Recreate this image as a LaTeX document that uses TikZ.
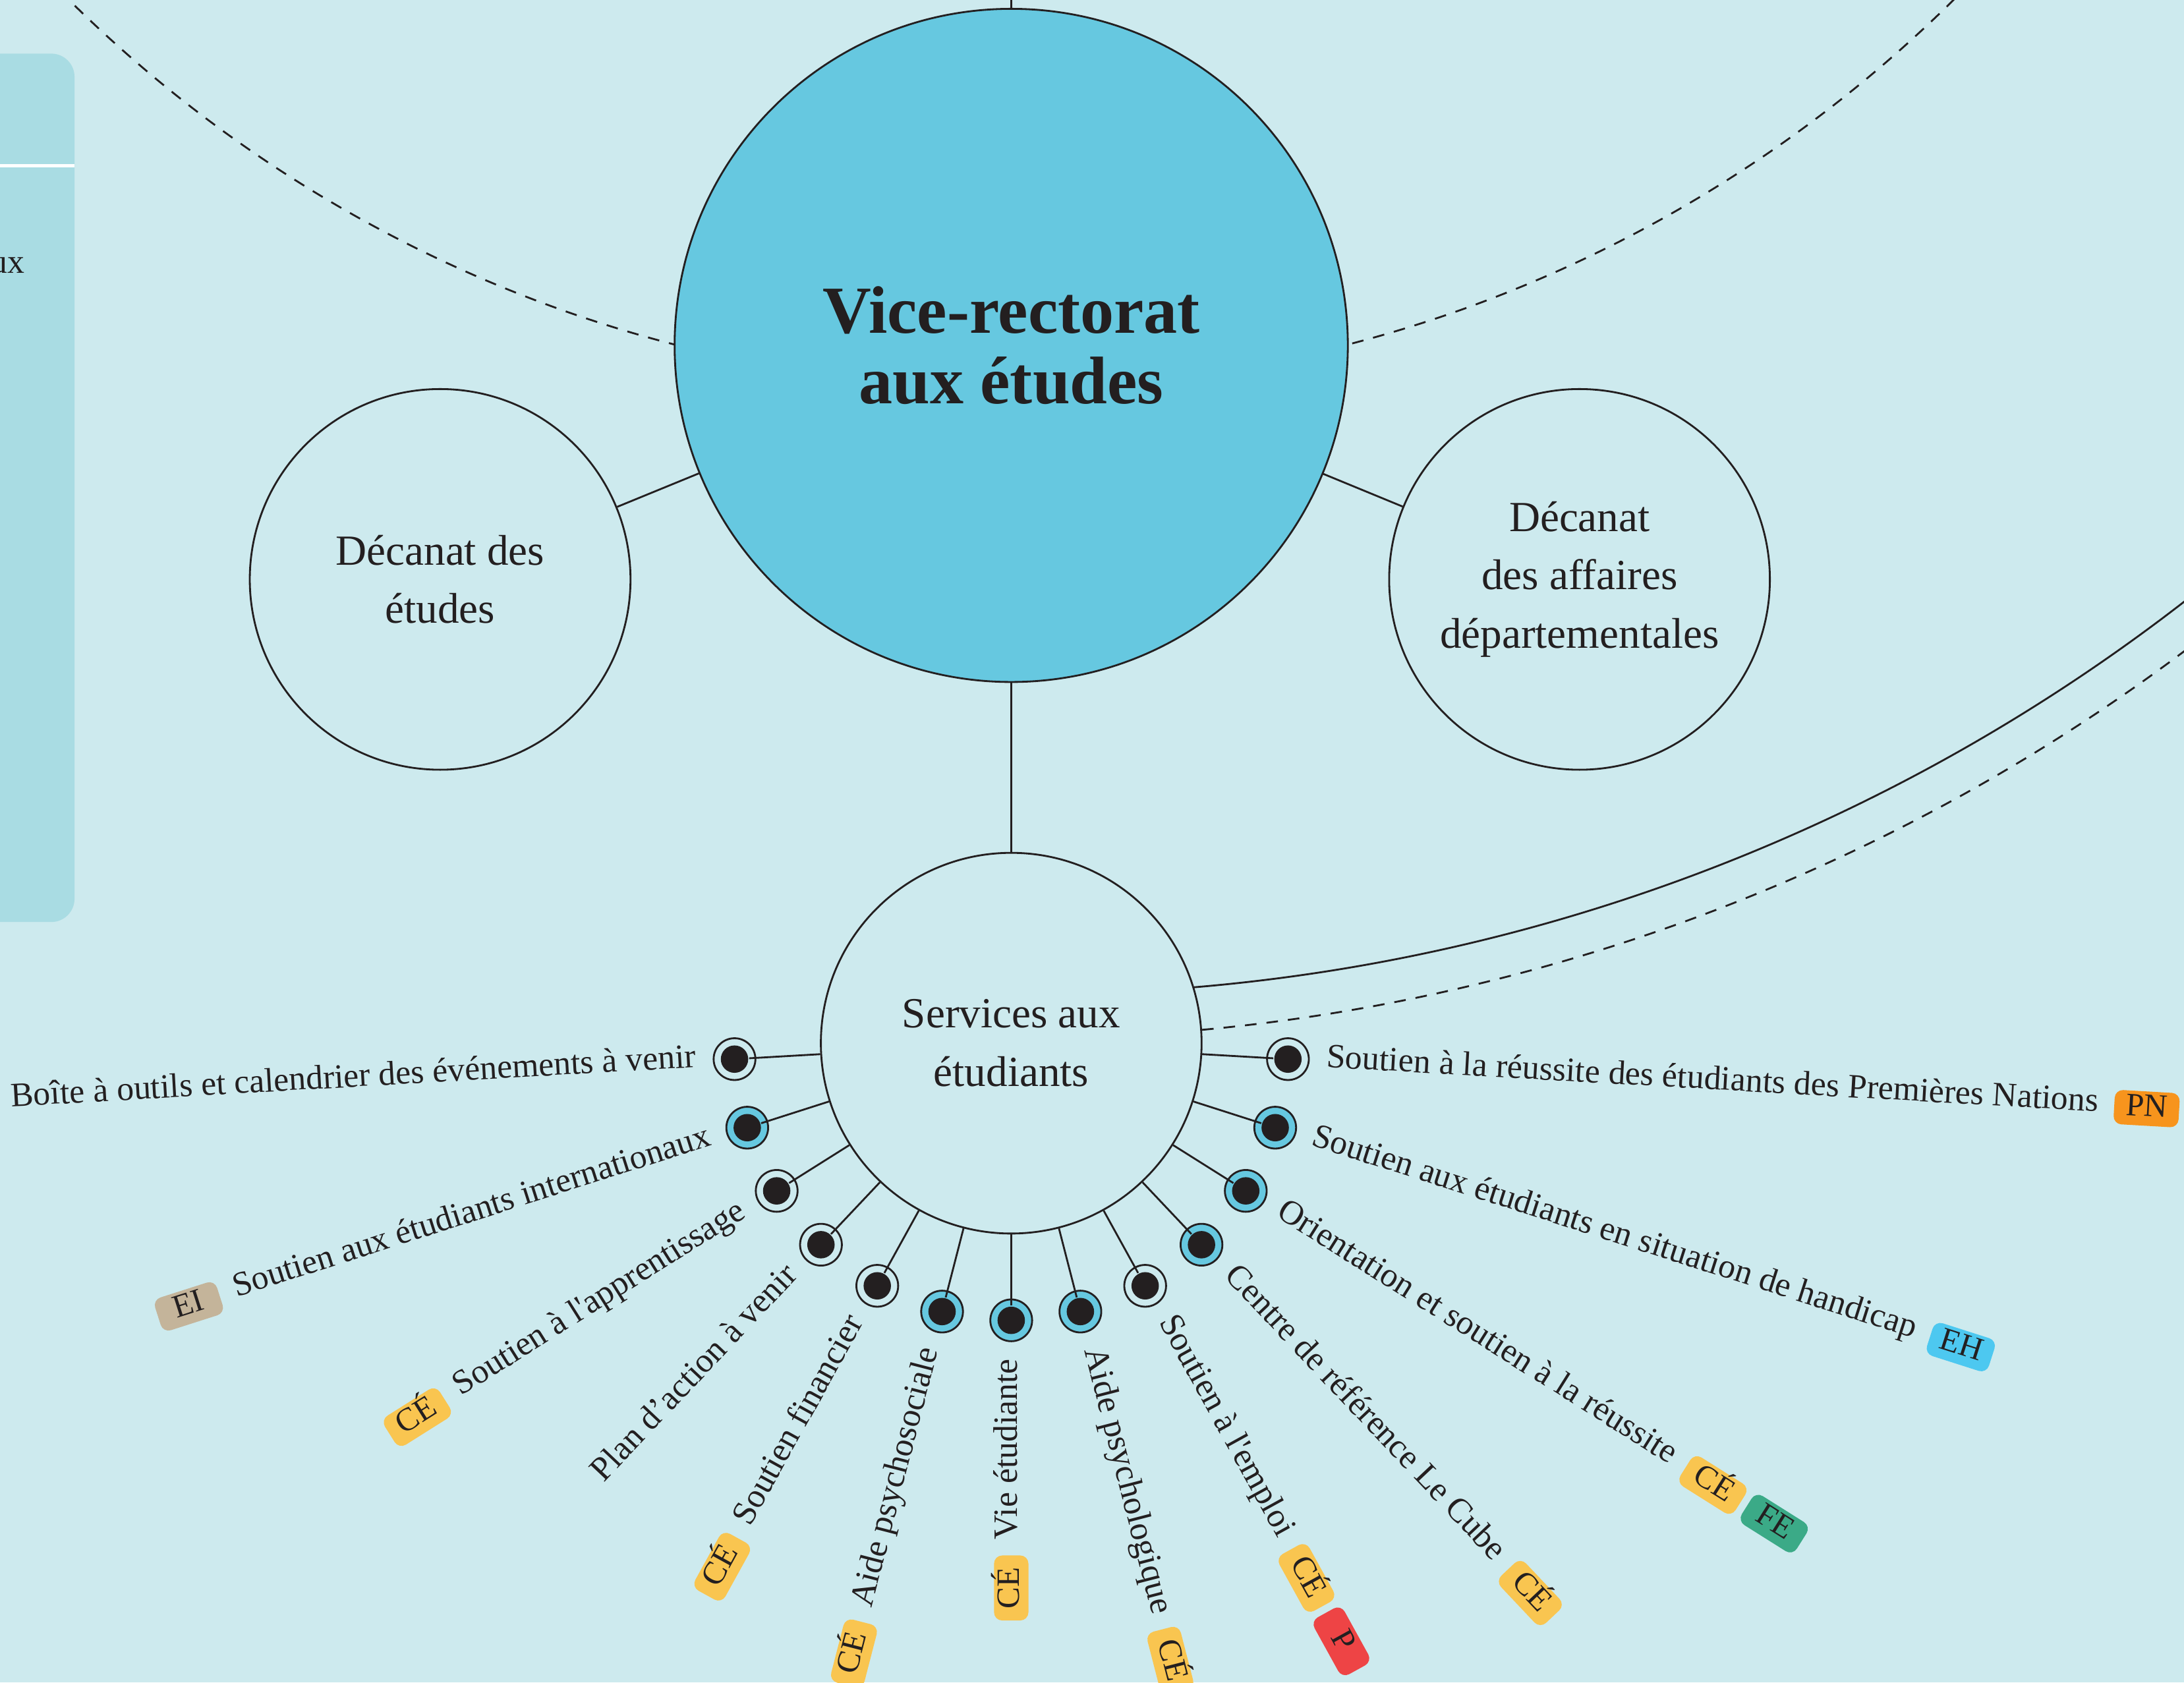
\documentclass[tikz,border=0pt]{standalone}
\usepackage{fontspec}
\setmainfont{Liberation Serif}
\usepackage{tikz}
\usetikzlibrary{positioning}
\definecolor{bgc}{HTML}{CDEAEE}
\definecolor{panelc}{HTML}{A9DCE3}
\definecolor{cyanc}{HTML}{66C8E0}
\definecolor{inkc}{HTML}{231F20}
\definecolor{tagce}{HTML}{F9C550}
\definecolor{tagei}{HTML}{C4B49A}
\definecolor{tagp}{HTML}{EE4445}
\definecolor{tagfe}{HTML}{3BAA87}
\definecolor{tageh}{HTML}{4DC8F0}
\definecolor{tagpn}{HTML}{F7941D}

\begin{document}
\begin{tikzpicture}[x=0.6pt,y=-0.6pt,line width=0.8pt,color=inkc,
  bubble/.style={circle,draw,inner sep=0pt,minimum size=164pt,align=center,font=\fontsize{18.5}{25.2}\selectfont},
  hub/.style={circle,draw,fill=cyanc,inner sep=0pt,minimum size=290pt,align=center,font=\fontsize{29}{30.6}\selectfont\bfseries},
  ring/.style={circle,draw,fill=bgc,inner sep=0pt,minimum size=18pt},
  ringc/.style={ring,fill=cyanc},
  pip/.style={circle,fill=inkc,inner sep=0pt,minimum size=11.8pt},
  item/.style={inner sep=0pt,text height=0.7em,text depth=0.2em,font=\fontsize{14.7}{17}\selectfont},
  badge/.style={rounded corners=3.5pt,inner sep=0pt,minimum width=28pt,minimum height=14.8pt,text height=0.66em,text depth=0pt,font=\fontsize{14}{16}\selectfont},
  orbit/.style={dash pattern=on 5pt off 4.3pt}]
\useasboundingbox (0,0) rectangle (1568,1208);
\clip (0,0) rectangle (1568,1208);
\fill[bgc] (0,0) rectangle (1568,1208);
%
\fill[panelc,rounded corners=10pt] (-40,38.5) rectangle (53.5,662);
\draw[white,line width=1.6pt] (-40,119) -- (53.5,119);
\node[item,anchor=east] (ux) at (18.5,192) {ux};
%
\coordinate (orb) at (726,-684);
\draw[orbit] (orb) circle[radius=962];
%
\node[hub] (vr) at (726,248) {Vice-rectorat\\aux études};
\node[bubble] (de) at (316,416) {Décanat des\\études};
\node[bubble] (dad) at (1134,416) {Décanat\\des affaires\\départementales};
\node[bubble] (sae) at (726,749) {Services aux\\étudiants};
\coordinate (top) at (726,-20);
%
\draw (vr) -- (top);
\draw (vr) -- (de);
\draw (vr) -- (dad);
\draw (vr) -- (sae);
\draw (sae.17.1) arc[start angle=85.2,end angle=45,radius=1344];
\draw[orbit] (sae.4) arc[start angle=84.7,end angle=48,radius=1389];
%
\node[ring] (r1) at ([shift={(176.7:199)}]sae) {};
\node[pip] (p1) at (r1) {};
\draw (sae) -- (p1);
\node[item,anchor=east,rotate=3.3] (t1) at ([shift={(176.7:226)}]sae) {Boîte à outils et calendrier des événements à venir};
%
\node[ringc] (r2) at ([shift={(162.25:199)}]sae) {};
\node[pip] (p2) at (r2) {};
\draw (sae) -- (p2);
\node[item,anchor=east,rotate=17.75] (t2) at ([shift={(162.25:226)}]sae) {Soutien aux étudiants internationaux};
\node[badge,fill=tagei,anchor=east,rotate=17.75] (g2) at ([shift={(162.25:10)}]t2.west) {EI};
%
\node[ring] (r3) at ([shift={(147.8:199)}]sae) {};
\node[pip] (p3) at (r3) {};
\draw (sae) -- (p3);
\node[item,anchor=east,rotate=32.2] (t3) at ([shift={(147.8:226)}]sae) {Soutien à l\textquotesingle apprentissage};
\node[badge,fill=tagce,anchor=east,rotate=32.2] (g3) at ([shift={(147.8:10)}]t3.west) {CÉ};
%
\node[ring] (r4) at ([shift={(133.35:199)}]sae) {};
\node[pip] (p4) at (r4) {};
\draw (sae) -- (p4);
\node[item,anchor=east,rotate=46.65] (t4) at ([shift={(133.35:226)}]sae) {Plan d’action à venir};
%
\node[ring] (r5) at ([shift={(118.9:199)}]sae) {};
\node[pip] (p5) at (r5) {};
\draw (sae) -- (p5);
\node[item,anchor=east,rotate=61.1] (t5) at ([shift={(118.9:226)}]sae) {Soutien financier};
\node[badge,fill=tagce,anchor=east,rotate=61.1] (g5) at ([shift={(118.9:10)}]t5.west) {CÉ};
%
\node[ringc] (r6) at ([shift={(104.45:199)}]sae) {};
\node[pip] (p6) at (r6) {};
\draw (sae) -- (p6);
\node[item,anchor=east,rotate=75.55] (t6) at ([shift={(104.45:226)}]sae) {Aide psychosociale};
\node[badge,fill=tagce,anchor=east,rotate=75.55] (g6) at ([shift={(104.45:10)}]t6.west) {CÉ};
%
\node[ringc] (r7) at ([shift={(90:199)}]sae) {};
\node[pip] (p7) at (r7) {};
\draw (sae) -- (p7);
\node[item,anchor=east,rotate=90] (t7) at ([shift={(90:226)}]sae) {Vie étudiante};
\node[badge,fill=tagce,anchor=east,rotate=90] (g7) at ([shift={(90:10)}]t7.west) {CÉ};
%
\node[ringc] (r8) at ([shift={(75.55:199)}]sae) {};
\node[pip] (p8) at (r8) {};
\draw (sae) -- (p8);
\node[item,anchor=west,rotate=-75.55] (t8) at ([shift={(75.55:226)}]sae) {Aide psychologique};
\node[badge,fill=tagce,anchor=west,rotate=-75.55] (g8) at ([shift={(75.55:10)}]t8.east) {CÉ};
%
\node[ring] (r9) at ([shift={(61.1:199)}]sae) {};
\node[pip] (p9) at (r9) {};
\draw (sae) -- (p9);
\node[item,anchor=west,rotate=-61.1] (t9) at ([shift={(61.1:226)}]sae) {Soutien à l\textquotesingle emploi};
\node[badge,fill=tagce,anchor=west,rotate=-61.1] (g9) at ([shift={(61.1:10)}]t9.east) {CÉ};
\node[badge,fill=tagp,anchor=west,rotate=-61.1] (g9b) at ([shift={(61.1:4)}]g9.east) {P};
%
\node[ringc] (r10) at ([shift={(46.65:199)}]sae) {};
\node[pip] (p10) at (r10) {};
\draw (sae) -- (p10);
\node[item,anchor=west,rotate=-46.65] (t10) at ([shift={(46.65:226)}]sae) {Centre de référence Le Cube};
\node[badge,fill=tagce,anchor=west,rotate=-46.65] (g10) at ([shift={(46.65:10)}]t10.east) {CÉ};
%
\node[ringc] (r11) at ([shift={(32.2:199)}]sae) {};
\node[pip] (p11) at (r11) {};
\draw (sae) -- (p11);
\node[item,anchor=west,rotate=-32.2] (t11) at ([shift={(32.2:226)}]sae) {Orientation et soutien à la réussite};
\node[badge,fill=tagce,anchor=west,rotate=-32.2] (g11) at ([shift={(32.2:10)}]t11.east) {CÉ};
\node[badge,fill=tagfe,anchor=west,rotate=-32.2] (g11b) at ([shift={(32.2:4)}]g11.east) {FE};
%
\node[ringc] (r12) at ([shift={(17.75:199)}]sae) {};
\node[pip] (p12) at (r12) {};
\draw (sae) -- (p12);
\node[item,anchor=west,rotate=-17.75] (t12) at ([shift={(17.75:226)}]sae) {Soutien aux étudiants en situation de handicap};
\node[badge,fill=tageh,anchor=west,rotate=-17.75] (g12) at ([shift={(17.75:10)}]t12.east) {EH};
%
\node[ring] (r13) at ([shift={(3.3:199)}]sae) {};
\node[pip] (p13) at (r13) {};
\draw (sae) -- (p13);
\node[item,anchor=west,rotate=-3.3] (t13) at ([shift={(3.3:226)}]sae) {Soutien à la réussite des étudiants des Premières Nations};
\node[badge,fill=tagpn,anchor=west,rotate=-3.3] (g13) at ([shift={(3.3:10)}]t13.east) {PN};
\end{tikzpicture}
\end{document}
